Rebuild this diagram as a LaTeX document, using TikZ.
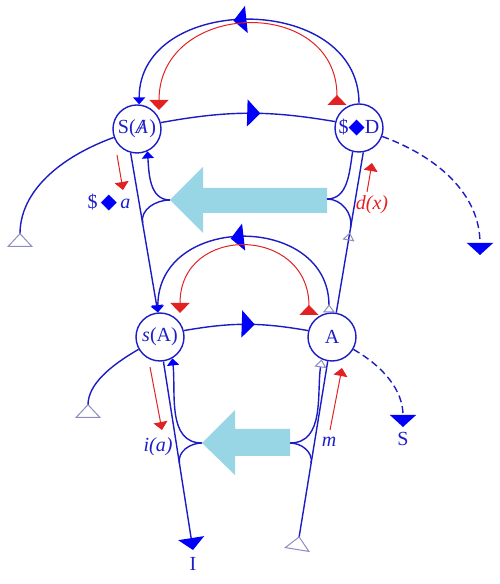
\documentclass[tikz,border=0pt]{standalone}
\usepackage{fontspec}
\setmainfont{Liberation Serif}
\newfontfamily\dejavu{DejaVu Sans}
\usetikzlibrary{arrows.meta,decorations.markings,calc}

\definecolor{lineblue}{RGB}{28,28,196}
\definecolor{tipblue}{RGB}{0,0,250}
\definecolor{textblue}{RGB}{30,30,200}
\definecolor{redline}{RGB}{226,34,34}
\definecolor{hollow}{RGB}{140,140,195}
\definecolor{bigarrow}{RGB}{152,213,229}

\newcommand{\Diam}{{\dejavu\fontsize{10.5}{10}\selectfont\textcolor{tipblue}{◆}}}
\newcommand{\Abar}{\textit{A}\kern-0.47em\textit{/}\kern0.19em}

\tikzset{
  bigtip/.tip={Triangle[length=6pt,width=13pt,color=tipblue]},
  bigmid/.tip={Triangle[length=6.5pt,width=13.5pt,color=tipblue]},
  smalltip/.tip={Triangle[length=3.5pt,width=6pt,color=tipblue]},
  redtip/.tip={Triangle[length=5pt,width=9.5pt,color=redline]},
  redrev/.tip={Triangle[reversed,length=5pt,width=9.5pt,color=redline]},
  redsmall/.tip={Triangle[length=4pt,width=7pt,color=redline]},
  hollowrev/.tip={Triangle[open,reversed,length=7pt,width=13pt,color=hollow,line width=0.5pt]},
  hollowsmall/.tip={Triangle[open,length=4pt,width=6pt,color=hollow,line width=0.5pt]},
  hollowsrev/.tip={Triangle[open,reversed,length=4pt,width=6pt,color=hollow,line width=0.5pt]},
  place/.style={draw=lineblue, line width=0.7pt, circle, minimum size=24pt, inner sep=0pt, text=textblue},
  ln/.style={draw=lineblue, line width=0.7pt},
  redln/.style={draw=redline, line width=0.5pt},
  lbl/.style={text=textblue, inner sep=1pt},
  midarrow/.style={postaction={decorate,decoration={markings,mark=at position #1 with {\arrow{bigmid}}}}},
  hollowmid/.style={postaction={decorate,decoration={markings,mark=at position #1 with {\arrow{hollowsmall}}}}},
}

\begin{document}
\begin{tikzpicture}[x=0.5pt,y=0.5pt]
\useasboundingbox (0,0) rectangle (499,584);

% the two wide arrows
\coordinate (cu1) at (170,384);
\coordinate (cu2) at (327,385);
\coordinate (cu3) at (202,141);
\coordinate (cu4) at (290,141);
\fill[bigarrow] (cu1) -- ++(33,33) -- ++(0,-21) -- ++(124,0) -- ++(0,-25) -- ++(-124,0) -- ++(0,-20) -- cycle;
\fill[bigarrow] (cu3) -- ++(33,33) -- ++(0,-19) -- ++(55,0) -- ++(0,-27) -- ++(-55,0) -- ++(0,-19) -- cycle;

\node[place] (SX) at (137,455) {S(\Abar)};
\node[place] (SD) at (359,456) {\$\Diam D};
\node[place] (sA) at (160,247) {\textit{s}(A)};
\node[place] (A) at (332,247) {A};

% upper floor
\coordinate (rt1) at (337,479);
\coordinate (rt2) at (159,474);
\draw[ln, -{smalltip}, midarrow=0.55] (SD.north) to[out=90,in=90,looseness=1.3] (SX.85);
\draw[redln, {redrev}-{redtip}] (rt1) to[out=90,in=90,looseness=1.58] (rt2);
\draw[ln, midarrow=0.57] (SX.15) to[bend left=10] (SD.165);

\coordinate (hl1) at (20,337);
\draw[ln, {hollowrev}-] (hl1) to[out=90,in=200] (SX.200);
\coordinate (dr1) at (480,329);
\draw[ln, dashed, dash pattern=on 3.5pt off 2pt, -{bigtip}] (SD.-20) to[out=-20,in=90] (dr1);

% lower floor
\coordinate (rb1) at (309,269);
\coordinate (rb2) at (180,271);
\draw[ln, {hollowsrev}-{smalltip}, midarrow=0.55] (A.97) to[out=90,in=90,looseness=1.49] (sA.95);
\draw[redln, {redrev}-{redtip}] (rb1) to[out=90,in=90,looseness=1.77] (rb2);
\draw[ln, midarrow=0.57] (sA.15) to[bend left=10] (A.165);

\coordinate (hl2) at (88,166);
\draw[ln, {hollowrev}-] (hl2) to[out=90,in=210] (sA.210);
\coordinate (dr2) at (403,157);
\draw[ln, dashed, dash pattern=on 3.5pt off 2pt, -{bigtip}] (A.-30) to[out=-30,in=90] (dr2);

% verticals
\draw[ln, -{smalltip}] (SX.-105) -- (sA.95);
\draw[ln, hollowmid=0.5] (A.80) -- (SD.-80);
\coordinate (endI) at (193,34);
\draw[ln, -{bigtip}] (sA.-82) -- (endI);
\coordinate (hr) at (297,34);
\draw[ln, {hollowrev}-] (hr) -- (A.-100);

% cusps at the arrow tips
\draw[ln, -{smalltip}] (cu1) to[out=180,in=-86] (SX.-65);
\draw[ln] (cu1) to[out=180,in=100] ($(SX.-105)!0.44!(sA.95)$);
\draw[ln] (cu2) to[out=0,in=-99] (SD.-105);
\draw[ln] (cu2) to[out=0,in=80] ($(SD.-80)!0.47!(A.80)$);
\draw[ln, -{smalltip}] (cu3) to[out=180,in=-84] (sA.-60);
\draw[ln] (cu3) to[out=180,in=100] ($(sA.-82)!0.54!(endI)$);
\draw[ln, -{hollowsmall}] (cu4) to[out=0,in=-98] (A.-115);
\draw[ln] (cu4) to[out=0,in=80] ($(A.-100)!0.54!(hr)$);

% small red arrows
\coordinate (ra1) at (117,429);
\coordinate (ra2) at (123,394);
\coordinate (rc1) at (367,392);
\coordinate (rc2) at (372,421);
\coordinate (re1) at (150,217);
\coordinate (re2) at (162,154);
\coordinate (rg1) at (330,154);
\coordinate (rg2) at (342,216);
\draw[redln, -{redsmall}] (ra1) -- (ra2);
\draw[redln, -{redsmall}] (rc1) -- (rc2);
\draw[redln, -{redsmall}] (re1) -- (re2);
\draw[redln, -{redsmall}] (rg1) -- (rg2);

\node[lbl] (la) at (109,381) {\$\,\Diam\,\textit{a}};
\node[lbl, text=redline] (ldx) at (372,379) {\textit{d(x)}};
\node[lbl] (lia) at (158,137) {\textit{i(a)}};
\node[lbl] (lm) at (329,142) {\textit{m}};
\node[lbl] (lS) at (403,145) {S};
\node[lbl] (lI) at (193,20) {I};

\end{tikzpicture}
\end{document}
